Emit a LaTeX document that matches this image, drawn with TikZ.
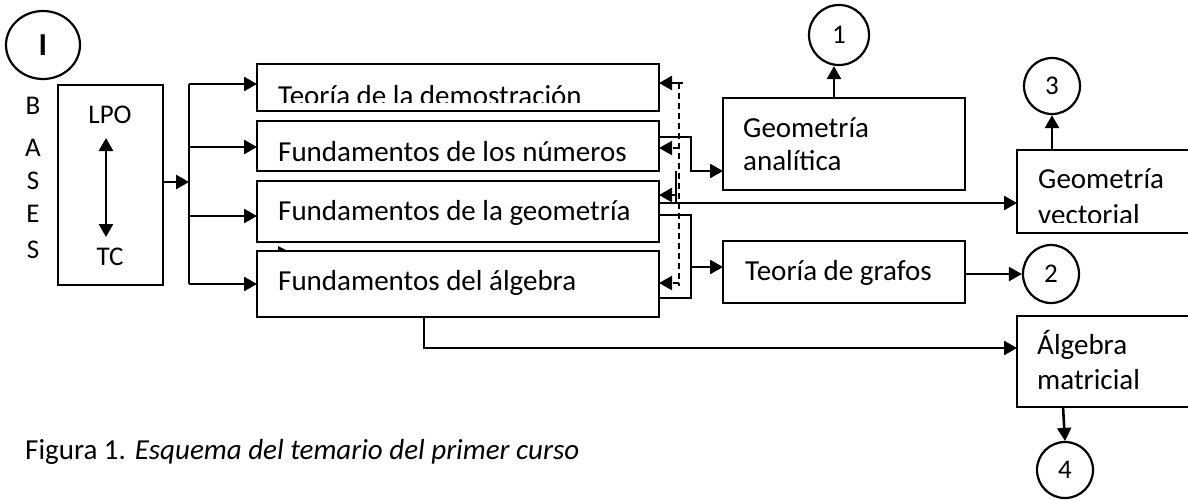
\documentclass[tikz,border=0pt]{standalone}
\usepackage{fontspec}
\setmainfont{Carlito}
\usetikzlibrary{arrows.meta,shapes.geometric}
\begin{document}
\begin{tikzpicture}[x=1pt,y=-1pt,
  box/.style={draw,line width=2.8pt,rectangle,inner sep=0pt,outer sep=0pt},
  lbl/.style={anchor=base west,inner sep=0pt,font=\fontsize{29}{35}\selectfont},
  small/.style={anchor=base,inner sep=0pt,font=\fontsize{27}{32}\selectfont},
  circ/.style={draw,ellipse,line width=2.2pt,inner sep=0pt,font=\fontsize{27}{32}\selectfont},
  conn/.style={line width=2.6pt},
  arr/.style={conn,-{Triangle[length=13pt,width=14pt]}},
  darr/.style={arr,dash pattern=on 6pt off 4pt,line width=2.2pt},
  captionstyle/.style={anchor=base west,inner sep=0pt,font=\fontsize{29}{35}\selectfont}]
\useasboundingbox (0,0) rectangle (1188,499);
\clip (0,0) rectangle (1188,499);
\fill[white] (0,0) rectangle (1188,499);

% circles
\node[circ,minimum width=74pt,minimum height=68pt,font=\fontsize{32}{38}\selectfont\bfseries] (cI) at (43,45) {I};
\node[circ,minimum width=60pt,minimum height=60pt] (c1) at (839,35) {1};
\node[circ,minimum width=56pt,minimum height=56pt] (c3) at (1052,86) {3};
\node[circ,minimum width=56pt,minimum height=58pt] (c2) at (1051,274) {2};
\node[circ,minimum width=56pt,minimum height=56pt] (c4) at (1065,470) {4};

% BASES
\node[small] (lb) at (33,114) {B};
\node[small] (la) at (33,156) {A};
\node[small] (ls) at (33,189) {S};
\node[small] (le) at (33,222) {E};
\node[small] (ls2) at (33,258) {S};

% bases box
\node[box,minimum width=105pt,minimum height=200pt] (bases) at (110.5,185) {};
\node[small] (lpo) at (110,123) {LPO};
\node[small] (tc) at (110,265) {TC};
\coordinate (dA) at (106,138);
\coordinate (dB) at (106,237);
\draw[conn,{Triangle[length=13pt,width=14pt]}-{Triangle[length=13pt,width=14pt]}] (dA) -- (dB);

% middle boxes
\node[box,minimum width=402pt,minimum height=47pt] (td) at (458,87.5) {};
\node[box,minimum width=402pt,minimum height=50pt] (fn) at (458,146) {};
\node[box,minimum width=402pt,minimum height=61pt] (fg) at (458,211.5) {};
\node[box,minimum width=402pt,minimum height=66pt] (fa) at (458,284) {};
\begin{scope}
  \clip (257,64) rectangle (659,102);
  \node[lbl] (tdt) at (278,105) {Teoría de la demostración};
\end{scope}
\node[lbl] (fnt) at (278,161) {Fundamentos de los números};
\node[lbl] (fgt) at (278,220.5) {Fundamentos de la geometría};
\node[lbl] (fat) at (278,290) {Fundamentos del álgebra};

% right boxes
\node[box,minimum width=242pt,minimum height=92pt] (ga) at (844,144) {};
\node[lbl] (gat1) at (743,137) {Geometría};
\node[lbl] (gat2) at (743,170) {analítica};
\node[box,minimum width=242pt,minimum height=62pt] (tg) at (844,272) {};
\node[lbl] (tgt) at (745,280) {Teoría de grafos};
\node[box,minimum width=183pt,minimum height=83pt] (gv) at (1108.5,191.5) {};
\begin{scope}
  \clip (1017,150) rectangle (1200,222);
  \node[lbl] (gvt1) at (1038,188) {Geometría};
  \node[lbl] (gvt2) at (1038,224) {vectorial};
\end{scope}
\node[box,minimum width=183pt,minimum height=91pt] (am) at (1108.5,361.5) {};
\node[lbl] (amt1) at (1037,354) {Álgebra};
\node[lbl] (amt2) at (1037,389) {matricial};

% bus from bases
\coordinate (bm) at (189,182);
\coordinate (b0) at (189,84);
\coordinate (b1) at (189,147);
\coordinate (b2) at (189,216);
\coordinate (b3) at (189,284);
\draw[arr] (bases.east |- bm) -- (bm);
\draw[conn] (b0) -- (b3);
\draw[arr] (b0) -- (b0 -| td.west);
\draw[arr] (b1) -- (b1 -| fn.west);
\draw[arr] (b2) -- (b2 -| fg.west);
\draw[arr] (b3) -- (b3 -| fa.west);

% small mark
\fill (278,246) -- (286,250) -- (278,250) -- cycle;

% dashed feedback
\coordinate (dt) at (683,83);
\coordinate (d0) at (679,83);
\coordinate (d1) at (679,148);
\coordinate (d2) at (679,283);
\coordinate (de) at (679,286);
\draw[conn] (dt) -- (d0);
\draw[arr] (d0) -- (d0 -| td.east);
\draw[conn,line width=2.2pt,dash pattern=on 6pt off 4pt] (d0) -- (de);
\draw[darr] (d1) -- (d1 -| fn.east);
\draw[darr] (d2) -- (d2 -| fa.east);

% to geometria analitica
\coordinate (k1) at (691,137);
\coordinate (k2) at (691,171);
\draw[arr] (fn.east |- k1) -- (k1) -- (k2) -- (k2 -| ga.west);
\coordinate (k3) at (676,171);
\coordinate (k4) at (676,195);
\coordinate (k5) at (676,203);
\draw[conn] (k3) -- (k5);
\draw[arr] (k4) -- (k4 -| fg.east);
\draw[arr] (fg.east |- k5) -- (k5 -| gv.west);

% to teoria de grafos
\coordinate (k7) at (691,215);
\coordinate (k8) at (691,298);
\coordinate (k9) at (691,267);
\draw[conn] (fg.east |- k7) -- (k7) -- (k8) -- (k8 -| fa.east);
\draw[arr] (k9) -- (k9 -| tg.west);
\draw[arr] (tg.east |- c2) -- (c2.west);

% algebra matricial
\coordinate (k10) at (424,348);
\draw[arr] (k10 |- fa.south) -- (k10) -- (k10 -| am.west);
\draw[arr] ([xshift=-45.5pt]am.south) -- (c4.north);

% up arrows
\draw[arr] ([xshift=-10pt]ga.north) -- ([xshift=-5pt]c1.south);
\draw[arr] (c3.south |- gv.north) -- (c3.south);

% caption
\node[captionstyle] (caption) at (25,459) {Figura 1. \textit{Esquema del temario del primer curso}};
\end{tikzpicture}
\end{document}
